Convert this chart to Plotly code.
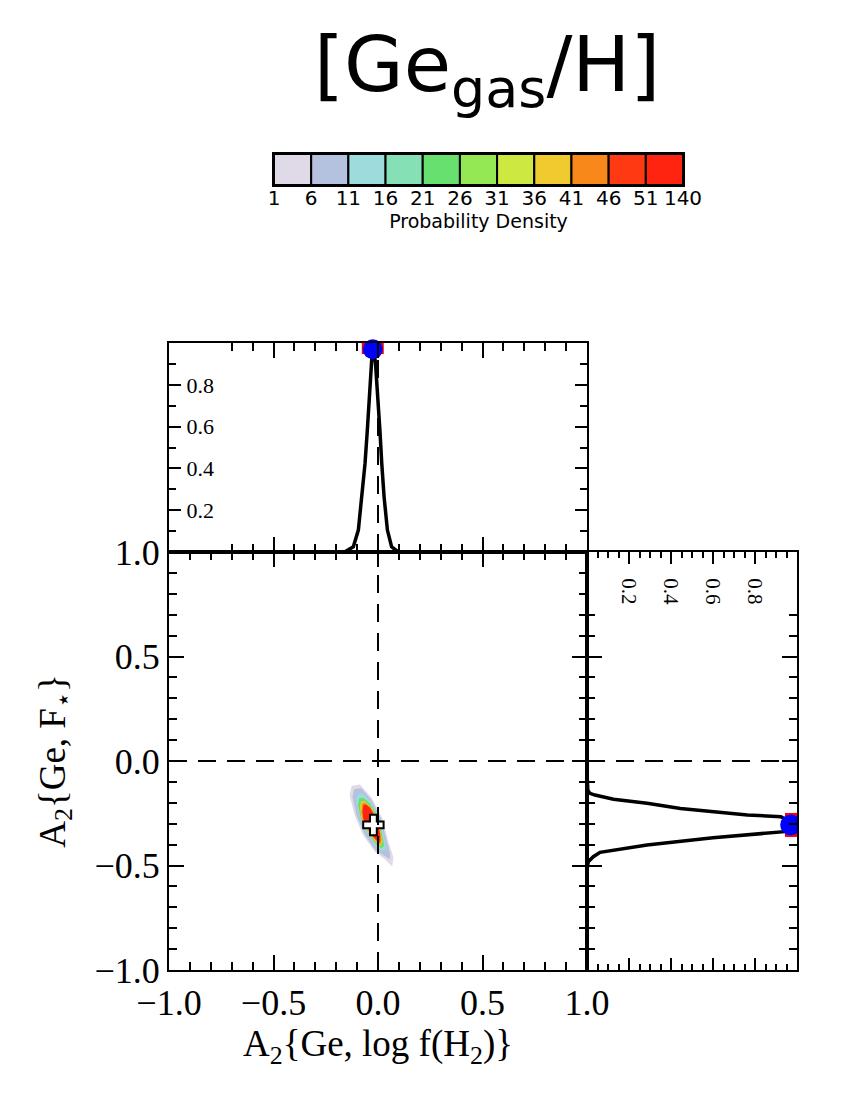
import plotly.graph_objects as go

# ---------------- data ----------------
# colour bar
cb_labels = ["1", "6", "11", "16", "21", "26", "31", "36", "41", "46", "51", "140"]
cb_colors = ["#e0d9e8", "#b4c1df", "#9cdcdc", "#85e0b5", "#67e06f", "#93e853",
             "#cde841", "#f0cb30", "#f8881a", "#ff3a12", "#ff2410"]

# top marginal: A2{Ge, log f(H2)} vs normalised probability
top_x = [-0.160, -0.118, -0.094, -0.078, -0.062, -0.051, -0.042, -0.033, -0.025,
         -0.012, 0.000, 0.009, 0.018, 0.029, 0.045, 0.065, 0.097]
top_p = [0.000, 0.025, 0.105, 0.265, 0.424, 0.584, 0.743, 0.903, 1.000,
         0.903, 0.743, 0.584, 0.424, 0.265, 0.105, 0.025, 0.000]

# right marginal: A2{Ge, F*} vs normalised probability
right_y = [-0.058, -0.140, -0.155, -0.163, -0.183, -0.202, -0.227, -0.242, -0.258,
           -0.267, -0.306, -0.338, -0.367, -0.402, -0.426, -0.437, -0.458, -0.482, -0.520]
right_p = [0.000, 0.004, 0.014, 0.038, 0.126, 0.286, 0.445, 0.604, 0.764,
           0.923, 1.000, 0.940, 0.600, 0.286, 0.126, 0.062, 0.030, 0.006, 0.000]

# best values (peaks / cross)
peak_x = -0.025
peak_y = -0.306
ref_x = 0.0
ref_y = 0.0

# 2-D probability-density contour outlines (outer -> inner)
lav_x = [-0.126, -0.136, -0.112, -0.072, -0.014, 0.033, 0.068, 0.074, 0.050, 0.020, -0.030, -0.086]
lav_y = [-0.118, -0.163, -0.258, -0.354, -0.435, -0.470, -0.505, -0.462, -0.388, -0.273, -0.177, -0.112]
blue_x = [-0.114, -0.122, -0.102, -0.064, -0.014, 0.030, 0.056, 0.058, 0.040, 0.014, -0.032, -0.080]
blue_y = [-0.135, -0.170, -0.262, -0.350, -0.425, -0.455, -0.470, -0.445, -0.380, -0.275, -0.185, -0.130]
cyan_x = [-0.098, -0.106, -0.088, -0.054, -0.010, 0.022, 0.038, 0.036, 0.022, 0.006, -0.036, -0.074]
cyan_y = [-0.160, -0.195, -0.270, -0.345, -0.410, -0.432, -0.420, -0.395, -0.330, -0.270, -0.192, -0.155]
green_x = [-0.090, -0.096, -0.082, -0.048, -0.006, 0.018, 0.030, 0.026, 0.016, 0.004, -0.038, -0.070]
green_y = [-0.178, -0.212, -0.275, -0.345, -0.403, -0.418, -0.405, -0.385, -0.325, -0.270, -0.203, -0.176]
yel_x = [-0.082, -0.086, -0.078, -0.042, -0.002, 0.014, 0.022, 0.018, 0.010, 0.002, -0.040, -0.064]
yel_y = [-0.193, -0.228, -0.280, -0.350, -0.397, -0.405, -0.390, -0.370, -0.315, -0.275, -0.213, -0.192]
ora_x = [-0.076, -0.080, -0.074, -0.036, 0.000, 0.012, 0.016, 0.014, 0.006, 0.001, -0.040, -0.062]
ora_y = [-0.203, -0.240, -0.280, -0.352, -0.392, -0.398, -0.382, -0.360, -0.315, -0.282, -0.218, -0.200]
red_x = [-0.070, -0.074, -0.070, -0.030, 0.000, 0.008, 0.011, 0.010, 0.004, 0.001, -0.038, -0.058]
red_y = [-0.212, -0.245, -0.278, -0.354, -0.388, -0.390, -0.375, -0.350, -0.320, -0.290, -0.224, -0.208]

# ---------------- figure ----------------
W, H = 862, 1103
def px_x(p): return p / W
def px_y(p): return 1 - p / H

main_xd = [px_x(169), px_x(587)]
main_yd = [px_y(970), px_y(552)]
top_yd = [px_y(552), px_y(343)]
right_xd = [px_x(587), px_x(797)]
cb_xd = [px_x(274), px_x(683)]
cb_yd = [px_y(185), px_y(154)]

SERIF = "Liberation Serif"
SANS = "DejaVu Sans"

fig = go.Figure()

# contour fills
polys = [(lav_x, lav_y, cb_colors[0]), (blue_x, blue_y, cb_colors[1]),
         (cyan_x, cyan_y, cb_colors[2]), (green_x, green_y, cb_colors[4]),
         (yel_x, yel_y, cb_colors[7]), (ora_x, ora_y, cb_colors[8]),
         (red_x, red_y, cb_colors[10])]
for px_, py_, col in polys:
    fig.add_trace(go.Scatter(x=px_ + px_[:1], y=py_ + py_[:1], mode="lines", fill="toself",
                             fillcolor=col, line=dict(width=0, color=col),
                             xaxis="x", yaxis="y", hoverinfo="skip"))

# best-fit cross
fig.add_trace(go.Scatter(x=[peak_x + 0.003], y=[peak_y], mode="markers",
                         marker=dict(symbol="cross", size=17, color="white",
                                     line=dict(color="black", width=2)),
                         xaxis="x", yaxis="y"))

# top marginal
fig.add_trace(go.Scatter(x=top_x, y=top_p, mode="lines", line=dict(color="black", width=3.5),
                         xaxis="x2", yaxis="y2"))
fig.add_trace(go.Scatter(x=[peak_x], y=[1.0], mode="markers",
                         marker=dict(symbol="square", size=22, color="red"),
                         xaxis="x2", yaxis="y2"))
fig.add_trace(go.Scatter(x=[peak_x], y=[0.97], mode="markers",
                         marker=dict(symbol="circle", size=20, color="blue"),
                         xaxis="x2", yaxis="y2", cliponaxis=False))

# right marginal
fig.add_trace(go.Scatter(x=right_p, y=right_y, mode="lines", line=dict(color="black", width=3.5),
                         xaxis="x3", yaxis="y3"))
fig.add_trace(go.Scatter(x=[1.0], y=[peak_y], mode="markers",
                         marker=dict(symbol="square", size=24, color="red"),
                         xaxis="x3", yaxis="y3"))
fig.add_trace(go.Scatter(x=[0.97], y=[peak_y], mode="markers",
                         marker=dict(symbol="circle", size=21, color="blue"),
                         xaxis="x3", yaxis="y3"))

# colour bar as boxes
cb_mid = [i + 0.5 for i in range(len(cb_colors))]
fig.add_trace(go.Bar(x=cb_mid, y=[1] * len(cb_colors),
                     width=1, marker=dict(color=cb_colors, line=dict(color="black", width=2)),
                     xaxis="x4", yaxis="y4", hoverinfo="skip"))
# invisible helper so the colour-bar label axis is drawn
fig.add_trace(go.Scatter(x=cb_mid, y=[0.5] * len(cb_colors), mode="markers",
                         marker=dict(opacity=0), xaxis="x5", yaxis="y4", hoverinfo="skip"))

# dashed reference lines
dash = "18px,11px"
shapes = [
    dict(type="line", xref="x", yref="y domain", x0=ref_x, x1=ref_x, y0=0, y1=1,
         line=dict(color="black", width=2, dash=dash)),
    dict(type="line", xref="x domain", yref="y", x0=0, x1=1, y0=ref_y, y1=ref_y,
         line=dict(color="black", width=2, dash=dash)),
    dict(type="line", xref="x2", yref="y2 domain", x0=ref_x, x1=ref_x, y0=0, y1=1,
         line=dict(color="black", width=2, dash=dash)),
    dict(type="line", xref="x3 domain", yref="y3", x0=0, x1=1, y0=ref_y, y1=ref_y,
         line=dict(color="black", width=2, dash=dash)),
]

box = dict(showline=True, linecolor="black", linewidth=2, mirror="allticks", automargin=False,
           showgrid=False, zeroline=False, ticks="inside", tickcolor="black", tickwidth=2)

fig.update_layout(
    width=W, height=H, margin=dict(l=0, r=0, t=0, b=0, pad=0), autosize=False,
    paper_bgcolor="white", plot_bgcolor="white", showlegend=False,
    shapes=shapes,
    xaxis=dict(domain=main_xd, range=[-1, 1], anchor="y",
               tickvals=[-1, -0.5, 0, 0.5, 1], ticktext=["\u22121.0", "\u22120.5", "0.0", "0.5", "1.0"],
               ticklen=15, minor=dict(ticks="inside", ticklen=8, tickwidth=2, tickcolor="black", dtick=0.1, tick0=0),
               tickfont=dict(family=SERIF, size=36, color="black"),
               title=dict(text="A<sub>2</sub>{Ge, log f(H<sub>2</sub>)}", standoff=4,
                          font=dict(family=SERIF, size=37, color="black")),
               **box),
    yaxis=dict(domain=main_yd, range=[-1, 1], anchor="x",
               tickvals=[-1, -0.5, 0, 0.5, 1], ticktext=["\u22121.0", "\u22120.5", "0.0", "0.5", "1.0"],
               ticklen=15, minor=dict(ticks="inside", ticklen=8, tickwidth=2, tickcolor="black", dtick=0.1, tick0=0),
               tickfont=dict(family=SERIF, size=36, color="black"),
               title=dict(text="A<sub>2</sub>{Ge, F<sub>\u22c6</sub>}", standoff=18,
                          font=dict(family=SERIF, size=37, color="black")),
               **box),
    xaxis2=dict(domain=main_xd, range=[-1, 1], anchor="y2", showticklabels=False,
                tickvals=[-1, -0.5, 0, 0.5, 1], ticklen=15,
                minor=dict(ticks="inside", ticklen=8, tickwidth=2, tickcolor="black", dtick=0.1, tick0=0),
                **box),
    yaxis2=dict(domain=top_yd, range=[0, 1.0], anchor="x2",
                tickvals=[0.2, 0.4, 0.6, 0.8], ticktext=["0.2", "0.4", "0.6", "0.8"],
                ticklen=12, ticklabelposition="inside", ticklabelstandoff=7,
                minor=dict(ticks="inside", ticklen=7, tickwidth=2, tickcolor="black", dtick=0.1, tick0=0),
                tickfont=dict(family=SERIF, size=22, color="black"),
                **box),
    xaxis3=dict(domain=right_xd, range=[0, 1], anchor="y3", side="top",
                tickvals=[0.2, 0.4, 0.6, 0.8], ticktext=["0.2", "0.4", "0.6", "0.8"],
                ticklen=12, ticklabelposition="inside", tickangle=90, ticklabelstandoff=4,
                minor=dict(ticks="inside", ticklen=6, tickwidth=2, tickcolor="black", dtick=0.05, tick0=0),
                tickfont=dict(family=SERIF, size=21, color="black"),
                **box),
    yaxis3=dict(domain=main_yd, range=[-1, 1], anchor="x3", showticklabels=False,
                tickvals=[-1, -0.5, 0, 0.5, 1], ticklen=15,
                minor=dict(ticks="inside", ticklen=8, tickwidth=2, tickcolor="black", dtick=0.1, tick0=0),
                **box),
    xaxis4=dict(domain=cb_xd, range=[0, len(cb_colors)], anchor="y4",
                showticklabels=False, ticks="",
                showline=True, mirror=True, linecolor="black", linewidth=2, automargin=False,
                showgrid=False, zeroline=False),
    xaxis5=dict(domain=cb_xd, range=[0, len(cb_colors)], overlaying="x4", anchor="free",
                position=px_y(184), side="bottom",
                tickvals=list(range(len(cb_labels))), ticktext=cb_labels, ticks="", ticklen=0,
                showline=False, automargin=False, showgrid=False, zeroline=False,
                tickfont=dict(family=SANS, size=20, color="black"),
                title=dict(text="Probability Density", standoff=0,
                           font=dict(family=SANS, size=19, color="black"))),
    yaxis4=dict(domain=cb_yd, range=[0, 1], anchor="x4", showticklabels=False, ticks="",
                showline=True, mirror=True, linecolor="black", linewidth=2, automargin=False,
                showgrid=False, zeroline=False),
    annotations=[dict(text="[Ge<sub>gas</sub>/H]", x=px_x(487), y=px_y(70), xref="paper", yref="paper",
                      xanchor="center", yanchor="middle", showarrow=False,
                      font=dict(family=SANS, size=77, color="black"))],
)

fig.write_html("out.html")
